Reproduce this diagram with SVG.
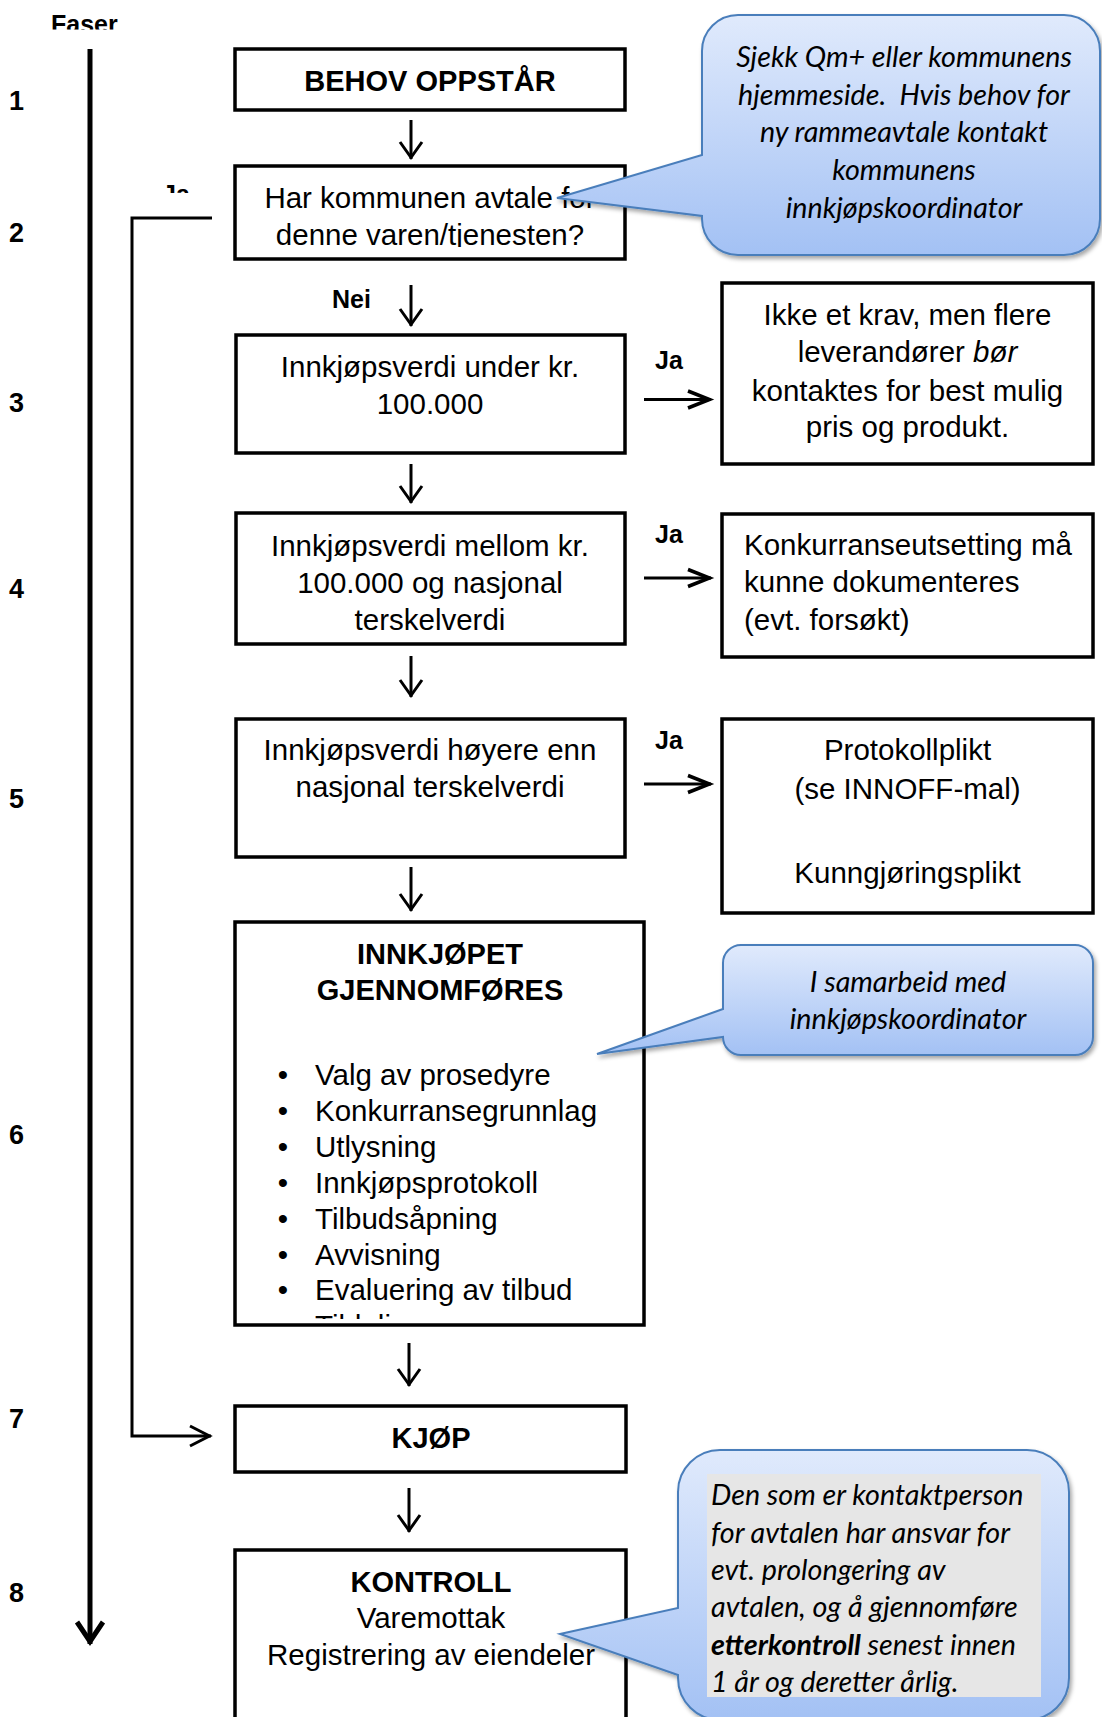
<svg xmlns="http://www.w3.org/2000/svg" width="1102" height="1717" viewBox="0 0 1102 1717">
<defs>
<style>
.box{fill:#fff;stroke:#000;stroke-width:3.5}
.t{font-family:"Liberation Sans",Arial,sans-serif;font-size:29.5px;fill:#000}
.c{text-anchor:middle}
.b{font-weight:bold;font-size:29px}
.lbl{font-family:"Liberation Sans",Arial,sans-serif;font-size:25px;font-weight:bold;fill:#000}
.num{font-family:"Liberation Sans",Arial,sans-serif;font-size:27px;font-weight:bold;fill:#000}
.co{font-family:Lato,"Open Sans",sans-serif;font-style:italic;font-size:28.7px;fill:#000}
.callout{fill:url(#cg);stroke:#4a7ebb;stroke-width:2;filter:url(#sh)}
.ln{stroke:#000;fill:none;stroke-width:3}
</style>
<linearGradient id="cg" x1="0" y1="0" x2="0" y2="1">
<stop offset="0" stop-color="#e0eafc"/>
<stop offset="1" stop-color="#a3c1f4"/>
</linearGradient>
<filter id="sh" x="-10%" y="-10%" width="130%" height="130%">
<feDropShadow dx="2" dy="3" stdDeviation="2" flood-color="#000" flood-opacity="0.35"/>
</filter>
<marker id="ad" markerUnits="userSpaceOnUse" viewBox="-30 -30 40 60" markerWidth="40" markerHeight="60" refX="0" refY="0" orient="auto" overflow="visible">
<path d="M-17,-11 L-1.5,0 L-17,11" fill="none" stroke="#000" stroke-width="3"/>
</marker>
<marker id="ar" markerUnits="userSpaceOnUse" viewBox="-30 -30 40 60" markerWidth="40" markerHeight="60" refX="0" refY="0" orient="auto" overflow="visible">
<path d="M-23,-8.5 L-1.5,0 L-23,8.5" fill="none" stroke="#000" stroke-width="3.5"/>
</marker>
<marker id="al" markerUnits="userSpaceOnUse" viewBox="-30 -30 40 60" markerWidth="40" markerHeight="60" refX="0" refY="0" orient="auto" overflow="visible">
<path d="M-21,-10 L-1.5,0 L-21,10" fill="none" stroke="#000" stroke-width="3"/>
</marker>
<marker id="ap" markerUnits="userSpaceOnUse" viewBox="-30 -30 40 60" markerWidth="40" markerHeight="60" refX="0" refY="0" orient="auto" overflow="visible">
<path d="M-22,-13 L-2.5,0 L-22,13" fill="none" stroke="#000" stroke-width="5"/>
</marker>
<clipPath id="clipFaser"><rect x="0" y="0" width="200" height="29.5"/></clipPath>
<clipPath id="clipJa"><rect x="140" y="170" width="60" height="23"/></clipPath>
<clipPath id="clipB2"><rect x="235" y="166" width="390" height="81"/></clipPath>
<clipPath id="clipB6"><rect x="235" y="922" width="409" height="397"/></clipPath>
</defs>
<rect width="1102" height="1717" fill="#fff"/>

<g id="phases">
<text class="lbl" x="51" y="33" clip-path="url(#clipFaser)">Faser</text>
<text class="num" x="9" y="110">1</text>
<text class="num" x="9" y="242">2</text>
<text class="num" x="9" y="411.5">3</text>
<text class="num" x="9" y="598">4</text>
<text class="num" x="9" y="807.5">5</text>
<text class="num" x="9" y="1143.5">6</text>
<text class="num" x="9" y="1428">7</text>
<text class="num" x="9" y="1601.5">8</text>
</g>

<g id="connectors">
<line x1="90" y1="49" x2="90" y2="1644" stroke="#000" stroke-width="5" marker-end="url(#ap)"/>
<polyline class="ln" points="212,218 132,218 132,1436 211,1436" marker-end="url(#al)"/>
<line class="ln" x1="411" y1="120" x2="411" y2="159" marker-end="url(#ad)"/>
<line class="ln" x1="411" y1="285" x2="411" y2="326" marker-end="url(#ad)"/>
<line class="ln" x1="411" y1="464" x2="411" y2="503" marker-end="url(#ad)"/>
<line class="ln" x1="411" y1="656" x2="411" y2="697" marker-end="url(#ad)"/>
<line class="ln" x1="411" y1="867" x2="411" y2="911" marker-end="url(#ad)"/>
<line class="ln" x1="409" y1="1343" x2="409" y2="1386" marker-end="url(#ad)"/>
<line class="ln" x1="409" y1="1488" x2="409" y2="1532" marker-end="url(#ad)"/>
<line class="ln" x1="644" y1="399.5" x2="711" y2="399.5" stroke-width="3.5" marker-end="url(#ar)"/>
<line class="ln" x1="644" y1="578" x2="711" y2="578" stroke-width="3.5" marker-end="url(#ar)"/>
<line class="ln" x1="644" y1="784" x2="711" y2="784" stroke-width="3.5" marker-end="url(#ar)"/>
<text class="lbl" x="162" y="203" clip-path="url(#clipJa)">Ja</text>
<text class="lbl" x="332" y="308">Nei</text>
<text class="lbl" x="655" y="369">Ja</text>
<text class="lbl" x="655" y="543">Ja</text>
<text class="lbl" x="655" y="749">Ja</text>
</g>

<g id="n1">
<rect class="box" x="235" y="49" width="390" height="61"/>
<text class="t c b" x="430" y="91">BEHOV OPPSTÅR</text>
</g>

<g id="n2">
<rect class="box" x="235" y="166" width="390" height="93"/>
<g clip-path="url(#clipB2)">
<text class="t c" x="430" y="208">Har kommunen avtale for</text>
<text class="t c" x="430" y="245">denne varen/tjenesten?</text>
</g>
</g>

<g id="n3">
<rect class="box" x="236" y="335" width="389" height="118"/>
<text class="t c" x="430" y="377">Innkjøpsverdi under kr.</text>
<text class="t c" x="430" y="414">100.000</text>
</g>

<g id="n3r">
<rect class="box" x="722" y="283" width="371" height="181"/>
<text class="t c" x="907.5" y="325">Ikke et krav, men flere</text>
<text class="t c" x="907.5" y="362">leverandører <tspan font-style="italic">bør</tspan></text>
<text class="t c" x="907.5" y="400.5">kontaktes for best mulig</text>
<text class="t c" x="907.5" y="437">pris og produkt.</text>
</g>

<g id="n4">
<rect class="box" x="236" y="513" width="389" height="131"/>
<text class="t c" x="430" y="556">Innkjøpsverdi mellom kr.</text>
<text class="t c" x="430" y="593">100.000 og nasjonal</text>
<text class="t c" x="430" y="630">terskelverdi</text>
</g>

<g id="n4r">
<rect class="box" x="722" y="514" width="371" height="143"/>
<text class="t" x="744" y="555">Konkurranseutsetting må</text>
<text class="t" x="744" y="592">kunne dokumenteres</text>
<text class="t" x="744" y="630">(evt. forsøkt)</text>
</g>

<g id="n5">
<rect class="box" x="236" y="719" width="389" height="138"/>
<text class="t c" x="430" y="760">Innkjøpsverdi høyere enn</text>
<text class="t c" x="430" y="797">nasjonal terskelverdi</text>
</g>

<g id="n5r">
<rect class="box" x="722" y="719" width="371" height="194"/>
<text class="t c" x="907.5" y="760">Protokollplikt</text>
<text class="t c" x="907.5" y="799">(se INNOFF-mal)</text>
<text class="t c" x="907.5" y="883">Kunngjøringsplikt</text>
</g>

<g id="n6">
<rect class="box" x="235" y="922" width="409" height="403"/>
<text class="t c b" x="440" y="964">INNKJØPET</text>
<text class="t c b" x="440" y="1000">GJENNOMFØRES</text>
<g clip-path="url(#clipB6)">
<text class="t c" x="283" y="1085">•</text><text class="t" x="315" y="1085">Valg av prosedyre</text>
<text class="t c" x="283" y="1121">•</text><text class="t" x="315" y="1121">Konkurransegrunnlag</text>
<text class="t c" x="283" y="1157">•</text><text class="t" x="315" y="1157">Utlysning</text>
<text class="t c" x="283" y="1193">•</text><text class="t" x="315" y="1193">Innkjøpsprotokoll</text>
<text class="t c" x="283" y="1229">•</text><text class="t" x="315" y="1229">Tilbudsåpning</text>
<text class="t c" x="283" y="1264.5">•</text><text class="t" x="315" y="1264.5">Avvisning</text>
<text class="t c" x="283" y="1300">•</text><text class="t" x="315" y="1300">Evaluering av tilbud</text>
<text class="t" x="315" y="1336">Tildeling</text>
</g>
</g>

<g id="n7">
<rect class="box" x="235" y="1406" width="391" height="66"/>
<text class="t c b" x="431" y="1448">KJØP</text>
</g>

<g id="n8">
<rect class="box" x="235" y="1550" width="391" height="220"/>
<text class="t c b" x="431" y="1592">KONTROLL</text>
<text class="t c" x="431" y="1628">Varemottak</text>
<text class="t c" x="431" y="1665">Registrering av eiendeler</text>
</g>

<g id="callout1">
<path class="callout" d="M738,15 H1064 A36,36 0 0 1 1100,51 V219 A36,36 0 0 1 1064,255 H738 A36,36 0 0 1 702,219 V216 L557,198 L702,155 V51 A36,36 0 0 1 738,15 Z"/>
<text class="co c" x="904" y="67">Sjekk Qm+ eller kommunens</text>
<text class="co c" x="904" y="105">hjemmeside.&#160; Hvis behov for</text>
<text class="co c" x="904" y="142">ny rammeavtale kontakt</text>
<text class="co c" x="904" y="179.5">kommunens</text>
<text class="co c" x="904" y="218">innkjøpskoordinator</text>
</g>

<g id="callout6">
<path class="callout" d="M741,945 H1075 A18,18 0 0 1 1093,963 V1037 A18,18 0 0 1 1075,1055 H741 A18,18 0 0 1 723,1037 L597,1054 L723,1009 V963 A18,18 0 0 1 741,945 Z"/>
<text class="co c" x="908" y="992">I samarbeid med</text>
<text class="co c" x="908" y="1029">innkjøpskoordinator</text>
</g>

<g id="callout8">
<path class="callout" d="M720,1450 H1027 A42,42 0 0 1 1069,1492 V1678 A42,42 0 0 1 1027,1720 H720 A42,42 0 0 1 678,1678 V1675 L560,1634 L678,1608 V1492 A42,42 0 0 1 720,1450 Z"/>
<rect x="707" y="1474" width="334" height="223" fill="#e6e6e6"/>
<text class="co" x="711" y="1505">Den som er kontaktperson</text>
<text class="co" x="711" y="1543">for avtalen har ansvar for</text>
<text class="co" x="711" y="1580">evt. prolongering av</text>
<text class="co" x="711" y="1617">avtalen, og å gjennomføre</text>
<text class="co" x="711" y="1655"><tspan font-weight="bold">etterkontroll</tspan> senest innen</text>
<text class="co" x="711" y="1692">1 år og deretter årlig.</text>
</g>
</svg>
